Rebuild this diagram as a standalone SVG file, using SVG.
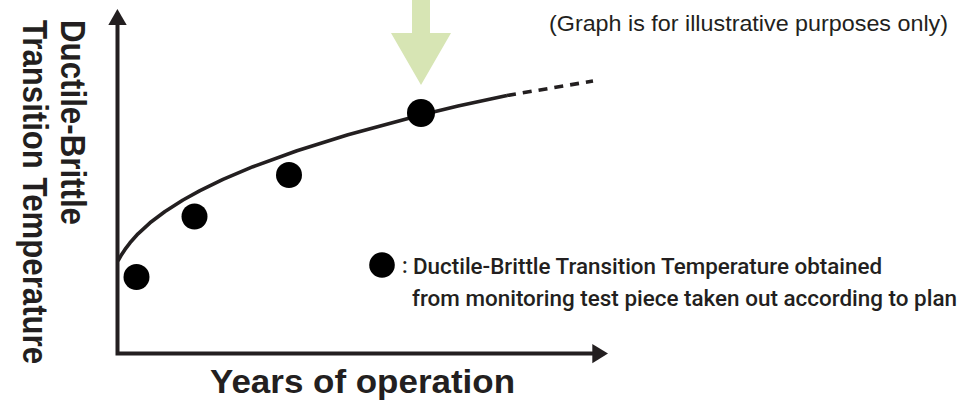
<svg xmlns="http://www.w3.org/2000/svg" width="980" height="405" viewBox="0 0 980 405">
<defs>
<style>
.ax{fill:none;stroke:#231f20;stroke-width:4;stroke-linejoin:miter}
.head{fill:#231f20}
.curve{fill:none;stroke:#231f20;stroke-width:3.6;stroke-linejoin:round;stroke-linecap:butt}
.dash{fill:none;stroke:#231f20;stroke-width:3.6;stroke-dasharray:9 7}
.dot{fill:#000}
.lbl{font-family:"Liberation Sans",Arial,sans-serif;font-weight:bold;fill:#231f20}
.leg{font-family:Roboto,"Liberation Sans",sans-serif;font-weight:500;fill:#231f20;font-size:21.5px}
.note{font-family:"Liberation Sans",Arial,sans-serif;fill:#231f20;font-size:22px}
</style>
</defs>
<rect width="980" height="405" fill="#fff"/>
<g id="highlight-arrow">
<polygon points="412,0 430,0 430,33 451,33 421,85 391,33 412,33" fill="#d7e5b4"/>
</g>
<g id="axes">
<polyline class="ax" points="117.5,24 117.5,353.6 593,353.6"/>
<polygon class="head" points="117.4,9 108.3,25 126.7,25"/>
<polygon class="head" points="608,353.6 592.3,344 592.3,363.3"/>
</g>
<g id="connectors">
<path id="trend" class="curve" d="M118,261 L121,255.6 L125,249.4 L130,242.8 L138,233.8 L150,222.8 L165,211.5 L183,200 L200,190.6 L223,179.4 L253,166.7 L297,150.7 L348,134.7 L421,115 L458,106 L507,95.5"/>
<path id="trend-ext" class="dash" d="M507,95.5 L593,81"/>
</g>
<g id="point-1"><circle class="dot" cx="136.5" cy="277" r="13"/></g>
<g id="point-2"><circle class="dot" cx="194.5" cy="216.5" r="13"/></g>
<g id="point-3"><circle class="dot" cx="289" cy="175" r="13"/></g>
<g id="point-4"><circle class="dot" cx="421" cy="113" r="14"/></g>
<g id="y-label">
<text class="lbl" font-size="35" transform="translate(61,20) rotate(90)" textLength="205" lengthAdjust="spacingAndGlyphs">Ductile-Brittle</text>
<text class="lbl" font-size="35" transform="translate(23,20) rotate(90)" textLength="344" lengthAdjust="spacingAndGlyphs">Transition Temperature</text>
</g>
<g id="x-label">
<text class="lbl" font-size="34" x="210" y="393" textLength="305" lengthAdjust="spacingAndGlyphs">Years of operation</text>
</g>
<g id="note">
<text class="note" x="549" y="31" textLength="399" lengthAdjust="spacingAndGlyphs">(Graph is for illustrative purposes only)</text>
</g>
<g id="legend">
<circle class="dot" cx="382" cy="265" r="12.8"/>
<text class="leg" x="402" y="273">:</text>
<text class="leg" x="413" y="274" textLength="469" lengthAdjust="spacingAndGlyphs">Ductile-Brittle Transition Temperature obtained</text>
<text class="leg" x="412" y="306" textLength="545" lengthAdjust="spacingAndGlyphs">from monitoring test piece taken out according to plan</text>
</g>
</svg>
